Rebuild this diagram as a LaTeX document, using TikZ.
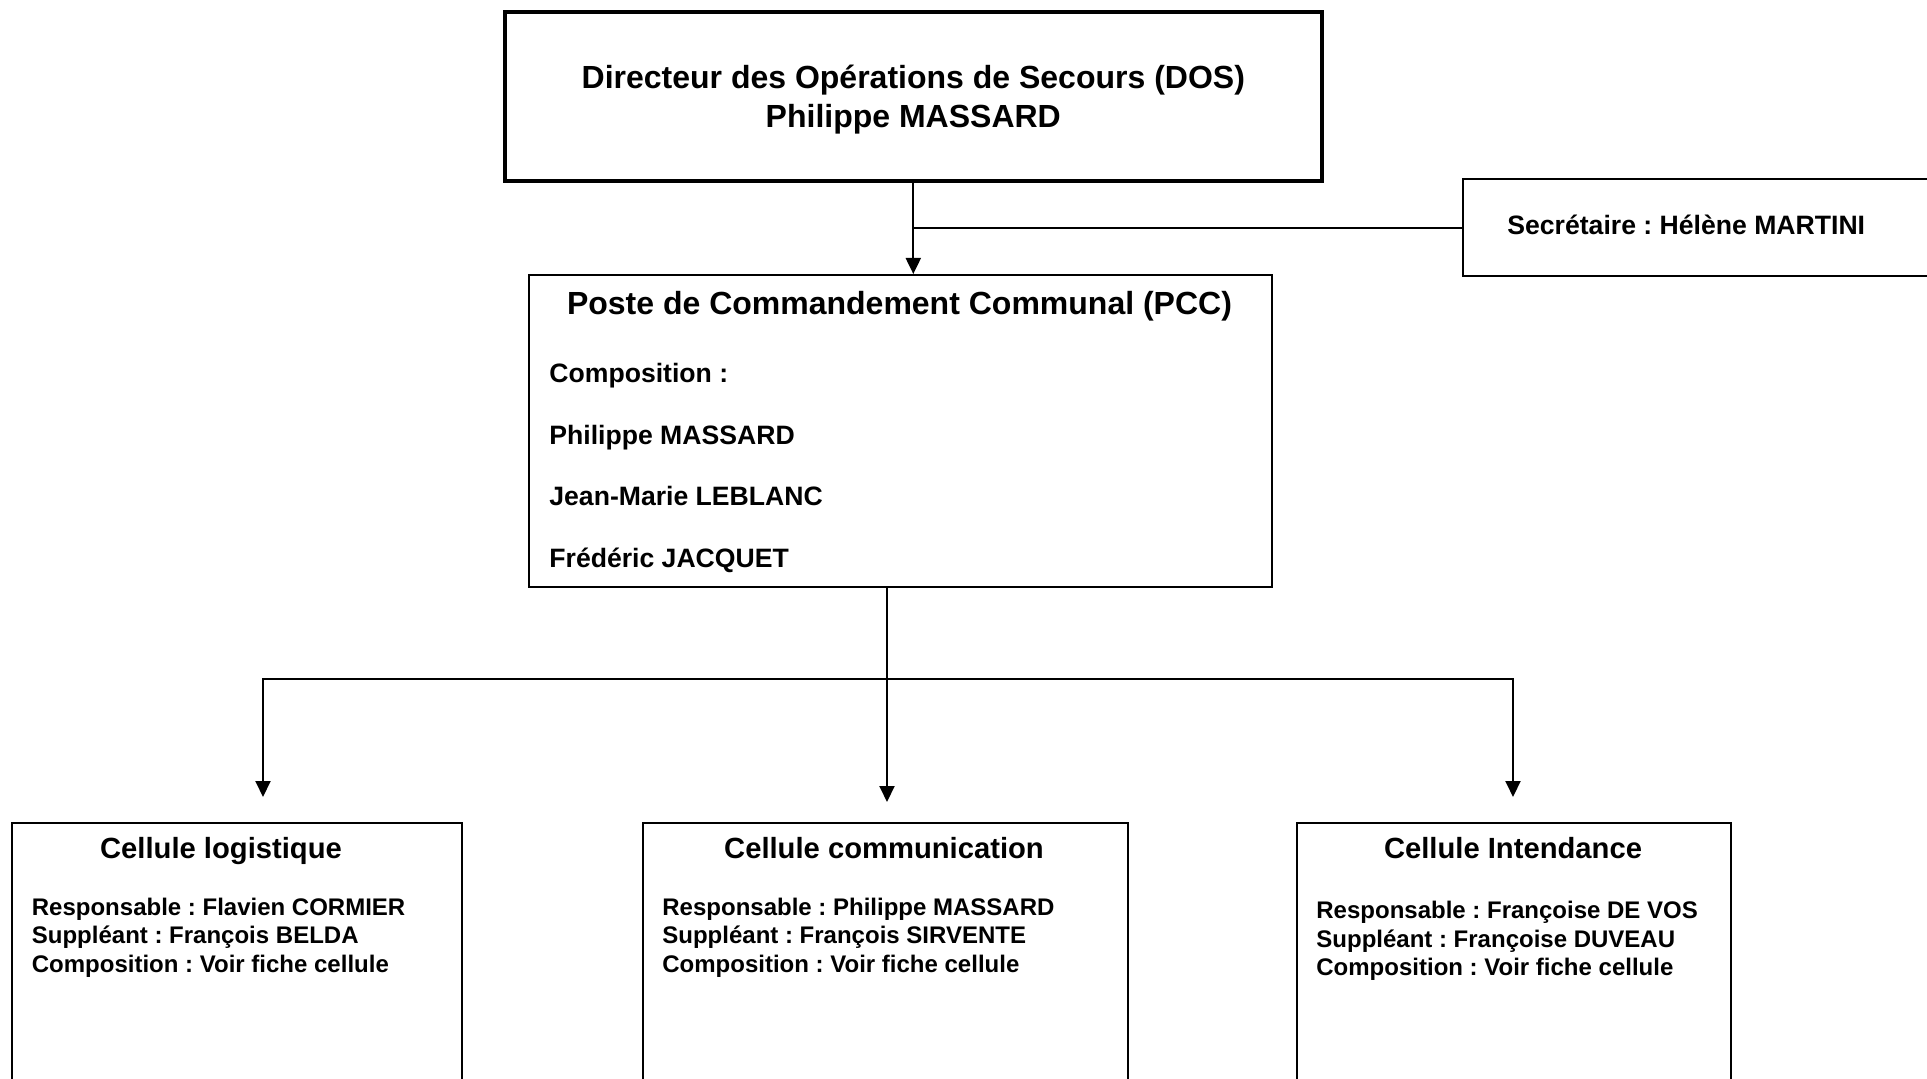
\documentclass[tikz,border=0pt]{standalone}
\usepackage{fontspec}
\setmainfont{Liberation Sans}
\frenchspacing
\usetikzlibrary{arrows.meta,positioning}
\tikzset{
  >={Triangle[width=7.5pt,length=8pt]},
  box/.style={draw,line width=1.1pt,inner sep=0pt,anchor=north west},
  dosbox/.style={box,line width=1.8pt,align=center,font=\bfseries\fontsize{16}{19.5}\selectfont},
  ttl/.style={inner sep=0pt,anchor=base,font=\bfseries\fontsize{16}{18}\selectfont},
  txt/.style={inner sep=0pt,anchor=base west,font=\bfseries\fontsize{13.3}{15}\selectfont},
  celltitle/.style={inner sep=0pt,anchor=base,font=\bfseries\fontsize{14.6}{17}\selectfont},
  celltxt/.style={inner sep=0pt,anchor=base west,font=\bfseries\fontsize{12}{14}\selectfont},
  link/.style={draw,line width=1pt},
  arr/.style={link,->},
}
\begin{document}
\begin{tikzpicture}[x=0.5pt,y=0.5pt]
\useasboundingbox (0,0) rectangle (1927,-1079);
% top level
\node[dosbox,minimum width=408.5pt,minimum height=84.5pt,text depth=0pt] (dos) at (503,-10)
  {Directeur des Opérations de Secours (DOS)\\Philippe MASSARD};
\node[box,minimum width=249pt,minimum height=48.5pt] (sec) at (1462,-178) {};
\node[txt] (sectxt) at (1507,-235) {Secrétaire : Hélène MARTINI};
% PCC
\node[box,minimum width=371.5pt,minimum height=156pt] (pcc) at (528,-274) {};
\node[ttl] (pcctitle) at (899.5,-315) {Poste de Commandement Communal (PCC)};
\foreach \who [count=\i] in {Composition :,Philippe MASSARD,Jean-Marie LEBLANC,Frédéric JACQUET}
  \node[txt] (pcc\i) at (549,{-383-61.5*(\i-1)}) {\who};
% cells
\node[box,minimum width=225.25pt,minimum height=140pt] (logi) at (10.5,-822) {};
\node[celltitle] (logititle) at (221,-858) {Cellule logistique};
\node[celltxt] (logi1) at (31.5,-915) {Responsable : Flavien CORMIER};
\node[celltxt] (logi2) at (31.5,-943) {Suppléant : François BELDA};
\node[celltxt] (logi3) at (31.5,-972) {Composition : Voir fiche cellule};
\node[box,minimum width=242.5pt,minimum height=140pt] (comm) at (642,-822) {};
\node[celltitle] (commtitle) at (884,-858) {Cellule communication};
\node[celltxt] (comm1) at (662,-915) {Responsable : Philippe MASSARD};
\node[celltxt] (comm2) at (662,-943) {Suppléant : François SIRVENTE};
\node[celltxt] (comm3) at (662,-972) {Composition : Voir fiche cellule};
\node[box,minimum width=217pt,minimum height=140pt] (inte) at (1296,-822) {};
\node[celltitle] (intetitle) at (1513,-858) {Cellule Intendance};
\node[celltxt] (inte1) at (1316,-918) {Responsable : Françoise DE VOS};
\node[celltxt] (inte2) at (1316,-947) {Suppléant : Françoise DUVEAU};
\node[celltxt] (inte3) at (1316,-975) {Composition : Voir fiche cellule};
% connectors
\coordinate (hub) at (887,-679);
\coordinate (tipL) at (263,-797);
\coordinate (tipM) at (887,-802);
\coordinate (tipR) at (1513,-797);
\draw[arr] (dos.south) -- (dos.south |- pcc.north);
\draw[link] (dos.south |- sec.west) -- (sec.west);
\draw[link] (pcc.south -| hub) -- (hub);
\draw[arr] (hub) -| (tipL);
\draw[arr] (hub) -- (tipM);
\draw[arr] (hub) -| (tipR);
\end{tikzpicture}
\end{document}
